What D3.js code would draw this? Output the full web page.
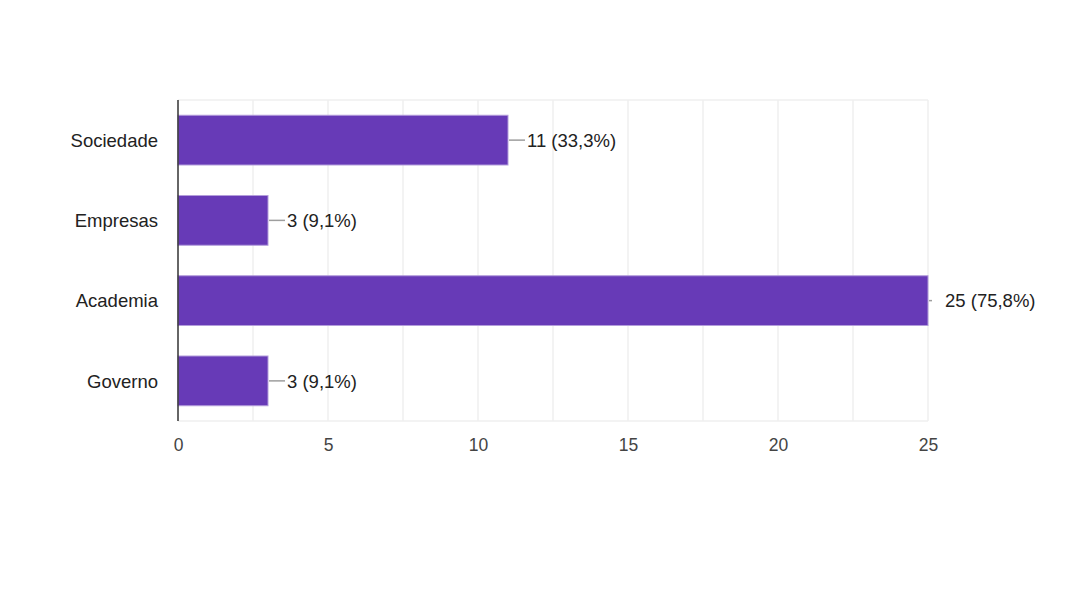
<!DOCTYPE html>
<html>
<head>
<meta charset="utf-8">
<script src="https://cdn.jsdelivr.net/npm/d3@7"></script>
<style>
  body { margin: 0; background: #fff; }
  svg { display: block; font-family: "Liberation Sans", Arial, sans-serif; }
</style>
</head>
<body>
<svg id="chart" width="1066" height="600"></svg>
<script>
// chart data
var categories = ['Sociedade', 'Empresas', 'Academia', 'Governo'];
var counts = [11, 3, 25, 3];
var percents = ['33,3%', '9,1%', '75,8%', '9,1%'];
var xTicks = [0, 5, 10, 15, 20, 25];
var gridValues = [2.5, 5, 7.5, 10, 12.5, 15, 17.5, 20, 22.5, 25];

var margins = { left: 178, top: 100, right: 138, bottom: 179 };
var width = 1066 - margins.left - margins.right;
var height = 600 - margins.top - margins.bottom;

var svg = d3.select('#chart');
var viewport = svg.append('g')
  .attr('transform', 'translate(' + margins.left + ',' + margins.top + ')');

var xScale = d3.scaleLinear().domain([0, 25]).range([0, width]);
var yScale = d3.scaleBand().domain(categories).range([0, height]).paddingInner(0.38).paddingOuter(0.19);

// gridlines
viewport.selectAll('line.grid')
  .data(gridValues)
  .enter().append('line')
  .attr('class', 'grid')
  .attr('x1', function(d) { return xScale(d); })
  .attr('x2', function(d) { return xScale(d); })
  .attr('y1', 0)
  .attr('y2', height)
  .attr('stroke', '#efefef')
  .attr('stroke-width', 1.5);

viewport.append('line')
  .attr('x1', 0).attr('x2', width)
  .attr('y1', 0).attr('y2', 0)
  .attr('stroke', '#efefef').attr('stroke-width', 1.5);
viewport.append('line')
  .attr('x1', 0).attr('x2', width)
  .attr('y1', height).attr('y2', height)
  .attr('stroke', '#efefef').attr('stroke-width', 1.5);

var rows = categories.map(function(c, i) {
  return { cat: c, val: counts[i], pct: percents[i] };
});

// bars
viewport.selectAll('rect.bar')
  .data(rows)
  .enter().append('rect')
  .attr('class', 'bar')
  .attr('x', 0)
  .attr('y', function(d) { return yScale(d.cat); })
  .attr('width', function(d) { return xScale(d.val); })
  .attr('height', yScale.bandwidth())
  .attr('fill', '#673ab7')
  .attr('stroke', '#b39ddb')
  .attr('stroke-width', 1);

// connectors + labels
viewport.selectAll('line.conn')
  .data(rows)
  .enter().append('line')
  .attr('class', 'conn')
  .attr('x1', function(d) { return xScale(d.val) + 1; })
  .attr('x2', function(d) { return xScale(d.val) + (d.val === 25 ? 4 : 17); })
  .attr('y1', function(d) { return yScale(d.cat) + yScale.bandwidth() / 2; })
  .attr('y2', function(d) { return yScale(d.cat) + yScale.bandwidth() / 2; })
  .attr('stroke', '#9e9e9e')
  .attr('stroke-width', 1.5);

viewport.selectAll('text.val')
  .data(rows)
  .enter().append('text')
  .attr('class', 'val')
  .attr('x', function(d) { return xScale(d.val) + (d.val === 25 ? 17 : 19); })
  .attr('y', function(d) { return yScale(d.cat) + yScale.bandwidth() / 2; })
  .attr('dy', '0.36em')
  .attr('font-size', 18.5)
  .attr('fill', '#222')
  .text(function(d) { return d.val + ' (' + d.pct + ')'; });

// y axis line + category labels
viewport.append('line')
  .attr('x1', 0).attr('x2', 0)
  .attr('y1', 0).attr('y2', height)
  .attr('stroke', '#333').attr('stroke-width', 1.5);

viewport.selectAll('text.cat')
  .data(categories)
  .enter().append('text')
  .attr('class', 'cat')
  .attr('x', -20)
  .attr('y', function(d) { return yScale(d) + yScale.bandwidth() / 2; })
  .attr('dy', '0.36em')
  .attr('text-anchor', 'end')
  .attr('font-size', 18.5)
  .attr('fill', '#222')
  .text(function(d) { return d; });

// x axis ticks
var xAxis = d3.axisBottom(xScale).tickValues(xTicks).tickSize(0).tickPadding(18);
var xg = viewport.append('g')
  .attr('transform', 'translate(0,' + height + ')')
  .call(xAxis);
xg.select('.domain').remove();
xg.selectAll('text')
  .attr('font-size', 17.5)
  .attr('font-family', '"Liberation Sans", Arial, sans-serif')
  .attr('fill', '#444');
</script>
</body>
</html>
